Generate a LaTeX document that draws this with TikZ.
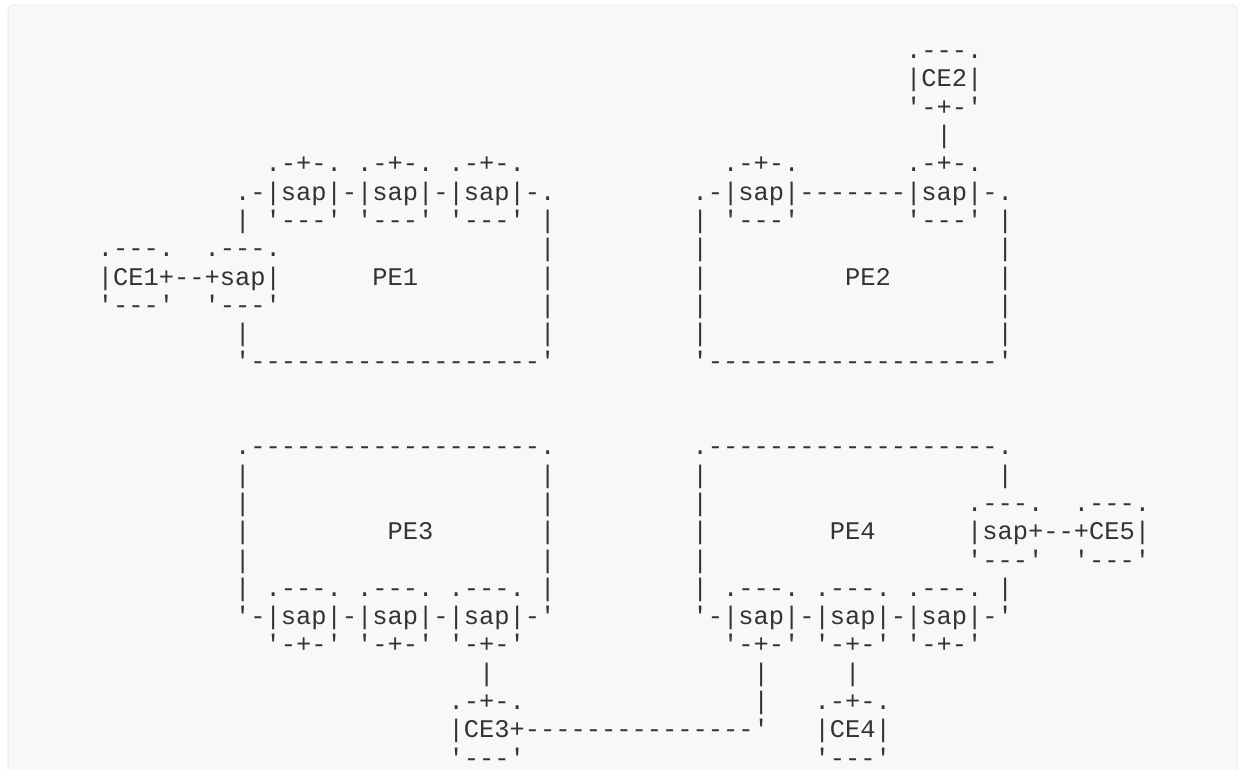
\documentclass[tikz,border=0pt]{standalone}
\usepackage{fontspec}
\setmonofont{Liberation Mono}
\usepackage{tikz}

\definecolor{codebg}{HTML}{F8F8F8}
\definecolor{codeedge}{HTML}{E9E9E9}
\definecolor{codetxt}{HTML}{333333}

% blank run of n character cells
\newcommand{\gap}[1]{\hspace*{#1\fontcharwd\font`x}}

\begin{document}
\begin{tikzpicture}[x=0.75pt, y=-0.75pt]
\tikzset{ asc/.style={anchor=base west, inner sep=0pt, outer sep=0pt, text=codetxt,
  font=\ttfamily\fontsize{19.06pt}{20pt}\selectfont\frenchspacing}, }

\useasboundingbox (0,0) rectangle (1241,769);
\begin{scope}
\clip (0,0) rectangle (1241,769);
\draw [codeedge, fill=codebg, line width=0.75pt, rounded corners=4.5pt] (8,5) rectangle (1237,800);
\end{scope}

%\draw [lightgray, dashed](0,0) grid (1241,769);

% PE1 and PE2
\node [asc] (r0)  at (97.9, 58.6) {\gap{53}.---.};
\node [asc] (r1)  at (97.9, 86.9) {\gap{53}|CE2|};
\node [asc] (r2)  at (97.9,115.2) {\gap{53}'-+-'};
\node [asc] (r3)  at (97.9,143.5) {\gap{55}|};
\node [asc] (r4)  at (97.9,171.8) {\gap{11}.-+-.~.-+-.~.-+-.\gap{13}.-+-.\gap{7}.-+-.};
\node [asc] (r5)  at (97.9,200.1) {\gap{9}.-|sap|-|sap|-|sap|-.\gap{9}.-|sap|-------|sap|-.};
\node [asc] (r6)  at (97.9,228.4) {\gap{9}|~'---'~'---'~'---'~|\gap{9}|~'---'\gap{7}'---'~|};
\node [asc] (r7)  at (97.9,256.7) {.---.~~.---.\gap{17}|\gap{9}|\gap{19}|};
\node [asc] (r8)  at (97.9,285.0) {|CE1+--+sap|\gap{6}PE1\gap{8}|\gap{9}|\gap{9}PE2\gap{7}|};
\node [asc] (r9)  at (97.9,313.3) {'---'~~'---'\gap{17}|\gap{9}|\gap{19}|};
\node [asc] (r10) at (97.9,341.6) {\gap{9}|\gap{19}|\gap{9}|\gap{19}|};
\node [asc] (r11) at (97.9,369.9) {\gap{9}'-------------------'\gap{9}'-------------------'};

% PE3 and PE4
\node [asc] (r14) at (97.9,454.8) {\gap{9}.-------------------.\gap{9}.-------------------.};
\node [asc] (r15) at (97.9,483.1) {\gap{9}|\gap{19}|\gap{9}|\gap{19}|};
\node [asc] (r16) at (97.9,511.4) {\gap{9}|\gap{19}|\gap{9}|\gap{17}.---.~~.---.};
\node [asc] (r17) at (97.9,539.7) {\gap{9}|\gap{9}PE3\gap{7}|\gap{9}|\gap{8}PE4\gap{6}|sap+--+CE5|};
\node [asc] (r18) at (97.9,568.0) {\gap{9}|\gap{19}|\gap{9}|\gap{17}'---'~~'---'};
\node [asc] (r19) at (97.9,596.3) {\gap{9}|~.---.~.---.~.---.~|\gap{9}|~.---.~.---.~.---.~|};
\node [asc] (r20) at (97.9,624.6) {\gap{9}'-|sap|-|sap|-|sap|-'\gap{9}'-|sap|-|sap|-|sap|-'};
\node [asc] (r21) at (97.9,652.9) {\gap{11}'-+-'~'-+-'~'-+-'\gap{13}'-+-'~'-+-'~'-+-'};
\node [asc] (r22) at (97.9,681.2) {\gap{25}|\gap{17}|\gap{5}|};
\node [asc] (r23) at (97.9,709.5) {\gap{23}.-+-.\gap{15}|\gap{3}.-+-.};
\node [asc] (r24) at (97.9,737.8) {\gap{23}|CE3+---------------'\gap{3}|CE4|};
\node [asc] (r25) at (97.9,766.1) {\gap{23}'---'\gap{19}'---'};

\end{tikzpicture}
\end{document}
